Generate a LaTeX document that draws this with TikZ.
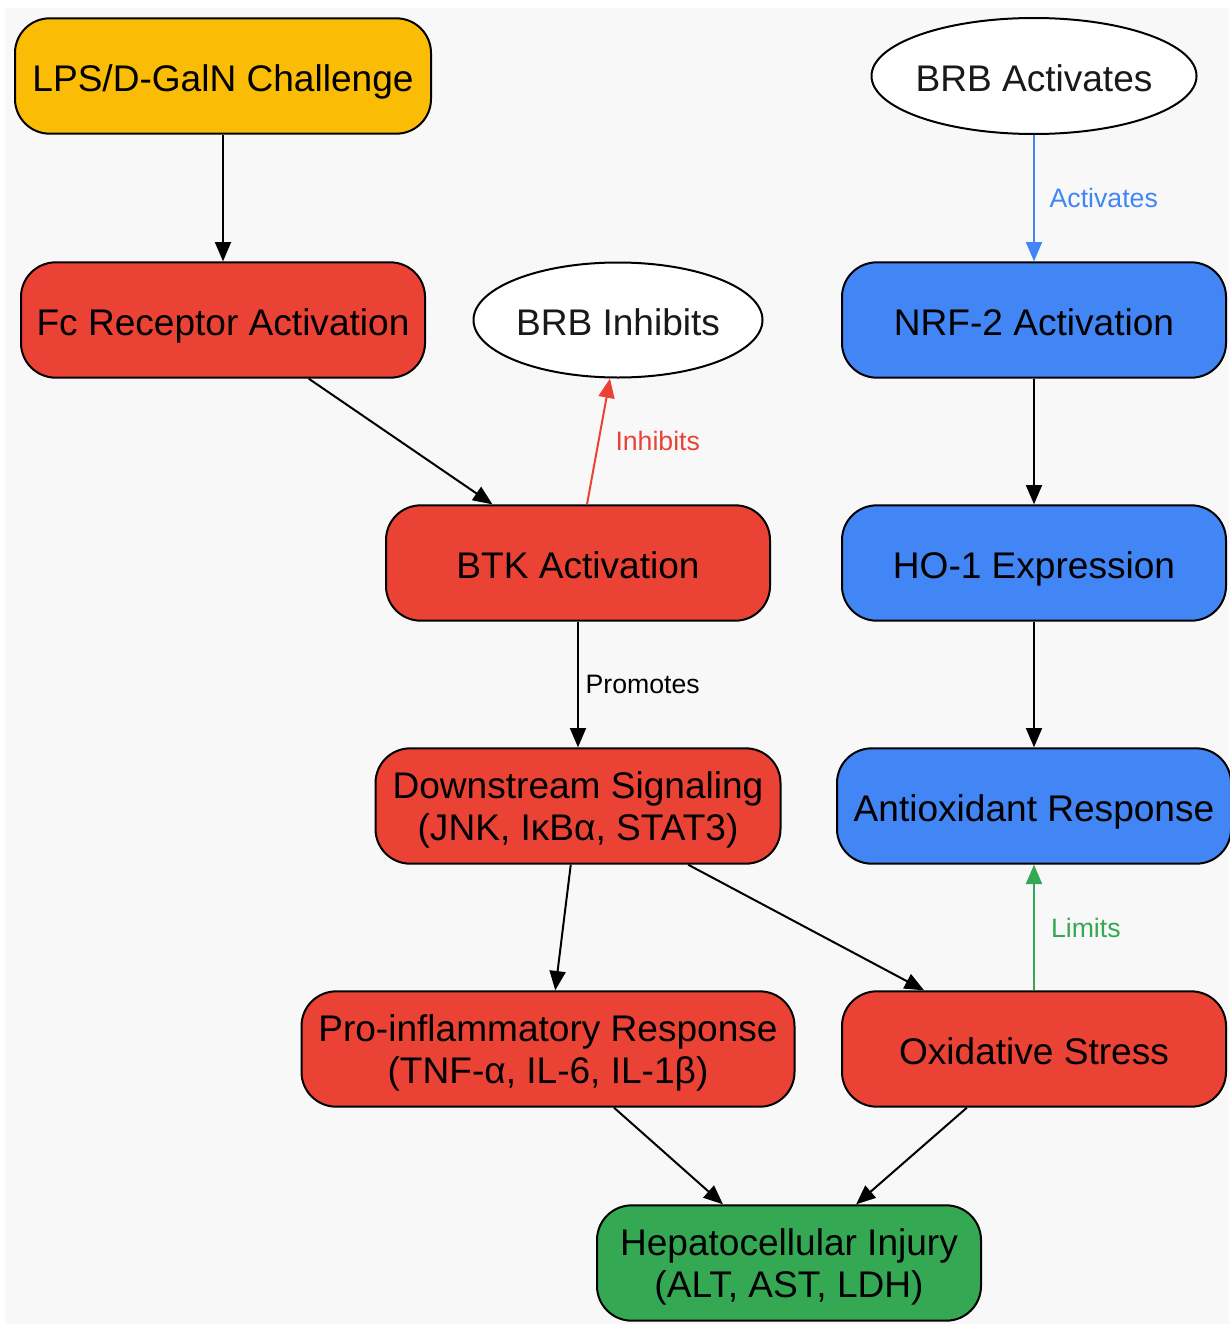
\documentclass[tikz,border=0pt]{standalone}
\usepackage{fontspec}
\setmainfont{Liberation Sans}
\usetikzlibrary{arrows.meta,shapes.geometric}
\definecolor{bgc}{HTML}{F8F8F8}
\definecolor{cred}{HTML}{EA4335}
\definecolor{cblue}{HTML}{4285F4}
\definecolor{cgreen}{HTML}{34A853}
\definecolor{cyellow}{HTML}{FBBC05}
\newcommand{\topstrut}{\rule{0pt}{26.5pt}}
\tikzset{
  box/.style={draw=black, line width=1.5pt, rounded corners=26pt, minimum height=86.5pt,
    inner sep=2pt, align=center, font=\fontsize{27.8}{31.5}\selectfont, text=black,
    execute at begin node={\rule[-6pt]{0pt}{35pt}}},
  twobox/.style={box, execute at begin node={}},
  oval/.style={ellipse, draw=black, line width=1.5pt, fill=white, inner ysep=0pt, inner xsep=-4pt,
    font=\fontsize{27.8}{31.5}\selectfont, text=black!90,
    execute at begin node={\rule[-6pt]{0pt}{35pt}}},
  conn/.style={line width=1.5pt, -{Triangle[length=14.5pt,width=12pt]}},
  lbl/.style={font=\fontsize{20}{22}\selectfont, anchor=west, inner sep=0pt}
}
\begin{document}
\begin{tikzpicture}[x=0.75pt,y=-0.75pt]
\useasboundingbox (0,0) rectangle (1229,1324);
\fill[white] (0,0) rectangle (1229,1324);
\fill[bgc] (5,8) rectangle (1229,1324);

\node[box, fill=cyellow, minimum width=312pt] (lps) at (223,76) {LPS/D-GalN Challenge};
\node[oval, minimum width=243.75pt, minimum height=87pt] (brba) at (1034,76) {BRB Activates};
\node[box, fill=cred, minimum width=303pt] (fc) at (223,320) {Fc Receptor Activation};
\node[oval, minimum width=216.75pt, minimum height=86.25pt] (brbi) at (618,320) {BRB Inhibits};
\node[box, fill=cblue, minimum width=288pt] (nrf) at (1034,320) {NRF-2 Activation};
\node[box, fill=cred, minimum width=288pt] (btk) at (578,563) {BTK Activation};
\node[box, fill=cblue, minimum width=288pt] (ho) at (1034,563) {HO-1 Expression};
\node[twobox, fill=cred, minimum width=303.75pt] (ds) at (578,806) {\topstrut Downstream Signaling\\(JNK, IκBα, STAT3)};
\node[box, fill=cblue, minimum width=295.5pt] (ao) at (1034,806) {Antioxidant Response};
\node[twobox, fill=cred, minimum width=369.75pt] (pro) at (548,1049) {\topstrut Pro-inflammatory Response\\(TNF-α, IL-6, IL-1β)};
\node[box, fill=cred, minimum width=288pt] (ox) at (1034,1049) {Oxidative Stress};
\node[twobox, fill=cgreen, minimum width=288pt] (hep) at (789,1263) {\topstrut Hepatocellular Injury\\(ALT, AST, LDH)};

\draw[conn] (lps) -- (fc);
\draw[conn] (fc) -- (btk);
\draw[conn, cred] ([xshift=6.75pt]btk.north) -- node[lbl, xshift=12pt, text=cred] {Inhibits} ([xshift=-6pt]brbi.south);
\draw[conn] (btk) -- node[lbl, xshift=5pt] {Promotes} (ds);
\draw[conn] (ds) -- (pro);
\draw[conn] (ds) -- (ox);
\draw[conn] (pro) -- (hep);
\draw[conn] (ox) -- (hep);
\draw[conn, cblue] (brba) -- node[lbl, xshift=11pt, text=cblue] {Activates} (nrf);
\draw[conn] (nrf) -- (ho);
\draw[conn] (ho) -- (ao);
\draw[conn, cgreen] (ox) -- node[lbl, xshift=12pt, text=cgreen] {Limits} (ao);
\end{tikzpicture}
\end{document}
